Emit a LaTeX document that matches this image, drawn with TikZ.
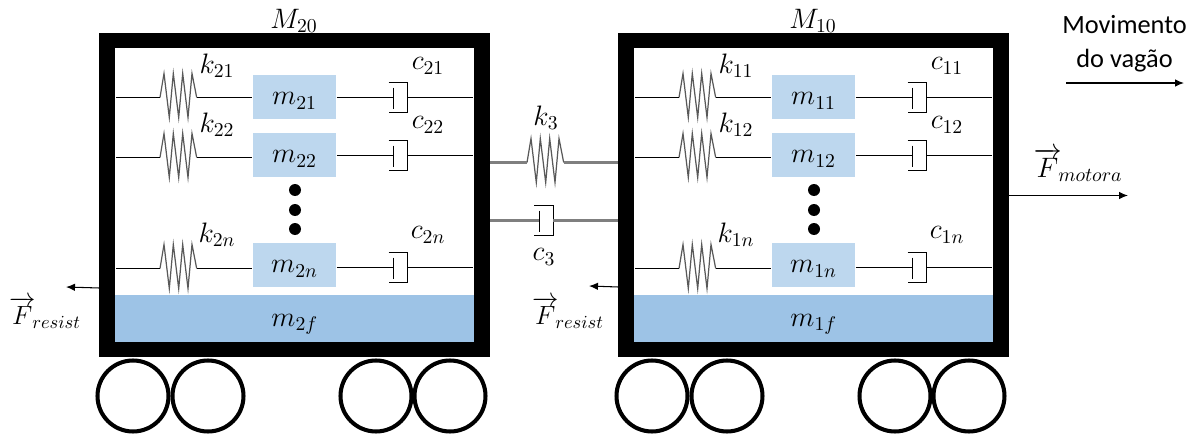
\RequirePackage{fix-cm}
\documentclass[tikz,border=0pt]{standalone}
\usepackage{fontspec}
\usepackage{amsmath}
\usetikzlibrary{positioning, arrows.meta}

\newfontfamily\captionfont{Carlito}

\definecolor{masscolor}{HTML}{BDD7EE}
\definecolor{floorcolor}{HTML}{9DC3E6}
\definecolor{springcolor}{HTML}{595959}
\definecolor{linkcolor}{HTML}{7F7F7F}

\tikzset{
    every node/.style={font=\fontsize{16}{19}\selectfont},
    wagonbox/.style={draw=black, line width=9pt, minimum width=7.5cm, minimum height=6.18cm, inner sep=0},
    massbox/.style={fill=masscolor, minimum width=1.68cm, minimum height=0.88cm, inner sep=0, text height=9pt, text depth=0pt},
    floorbox/.style={fill=floorcolor, minimum width=7.18cm, minimum height=0.94cm, inner sep=0, text height=9pt, text depth=0pt},
    wheel/.style={draw=black, circle, line width=2.3pt, minimum size=1.42cm, inner sep=0},
    bigdot/.style={fill=black, circle, minimum size=0.24cm, inner sep=0},
    force/.style={-{Latex[length=1.8mm, width=1.5mm]}, line width=0.6pt},
    forcelabel/.style={font=\fontsize{15}{18}\selectfont},
    rope/.style={line width=0.5pt},
    linkrope/.style={line width=1.2pt, linkcolor},
    springzig/.pic={
        \draw [line width=0.7pt, springcolor] (0,0) coordinate (-in) -- ++(4,-24) -- ++(5.3,44) -- ++(4,-44) -- ++(5.4,44)
            -- ++(4,-44) -- ++(5.3,44) -- ++(4,-44) -- ++(4.7,24) coordinate (-out);
    },
    dashpot/.pic={
        \coordinate (-in) at (0,0);
        \coordinate (-out) at (14,0);
        \draw [line width=0.5pt] (0,-10) -- (0,11);
        \draw [line width=0.5pt] (-5,-15) -- (14,-15) -- (14,15) -- (-5,15);
    },
}

\begin{document}
\begin{tikzpicture}[x=0.02cm, y=-0.02cm]
    \useasboundingbox (0,0) rectangle (1198,436);

    \foreach \car/\dx in {2/0, 1/519} {
        \begin{scope}[shift={(\dx,0)}]
            \node [floorbox] (m\car f) at (294.75,318.5) {$m_{\car f}$};
            \node [wagonbox] (box\car) at (294.75,195) {};
            \node (M\car) at (294,21) {$M_{\car 0}$};

            \foreach \row/\yk/\yc/\ym/\ylab in {1/97.5/97.5/97/66, 2/157.5/155.5/155/125, n/268.5/267.5/265/235} {
                \node [massbox] (m\car\row) at (294.5,\ym) {$m_{\car\row}$};
                \node (k\car\row) at (217,\ylab) {$k_{\car\row}$};
                \node (c\car\row) at (428,\ylab) {$c_{\car\row}$};
                \coordinate (lw\car\row) at (116,\yk);
                \coordinate (rw\car\row) at (473,\yc);
                \pic (s\car\row) at (160,\yk) {springzig};
                \pic (d\car\row) at (393.5,\yc) {dashpot};

                \draw [rope] (lw\car\row) -- (s\car\row-in);
                \draw [rope] (s\car\row-out) -- (m\car\row.west |- s\car\row-out);
                \draw [rope] (m\car\row.east |- d\car\row-in) -- (d\car\row-in);
                \draw [rope] (d\car\row-out) -- (rw\car\row);
            }

            \node [bigdot] (dota\car) at (295,190) {};
            \node [bigdot] (dotb\car) at (295,210) {};
            \node [bigdot] (dotc\car) at (295,229) {};

            \foreach \w/\xw in {a/133, b/208, c/376, d/450} {
                \node [wheel] (wheel\car\w) at (\xw,396) {};
            }
        \end{scope}
    }

    % ligacao entre os vagoes
    \pic (s3) at (527,162.5) {springzig};
    \pic (d3) at (539,220.5) {dashpot};
    \node (k3) at (546,118) {$k_{3}$};
    \node (c3) at (544,257) {$c_{3}$};
    \draw [linkrope] (box2.east |- s3-in) -- (s3-in);
    \draw [linkrope] (s3-out) -- (box1.west |- s3-out);
    \draw [linkrope] (box2.east |- d3-in) -- (d3-in);
    \draw [linkrope] (d3-out) -- (box1.west |- d3-out);

    % forcas
    \coordinate (endA) at (66,287);
    \coordinate (endB) at (589,286);
    \coordinate (endC) at (1128,195.5);
    \draw [force] (box2.west |- 0,288) -- (endA);
    \draw [force] (box1.west |- 0,287) -- (endB);
    \draw [force] (box1.east |- endC) -- (endC);
    \node [forcelabel] (Fa) at (45,313) {$\overrightarrow{F}_{\!resist}$};
    \node [forcelabel] (Fb) at (568,313) {$\overrightarrow{F}_{\!resist}$};
    \node (Fc) at (1078,165) {$\overrightarrow{F}_{\!motora}$};

    % sentido do movimento
    \node [font=\captionfont\fontsize{15}{19.3}\selectfont, align=center] (mov) at (1124.5,44) {Movimento\\do vagão};
    \coordinate (movA) at (1066,83);
    \coordinate (movB) at (1184,83);
    \draw [force] (movA) -- (movB);
\end{tikzpicture}
\end{document}
